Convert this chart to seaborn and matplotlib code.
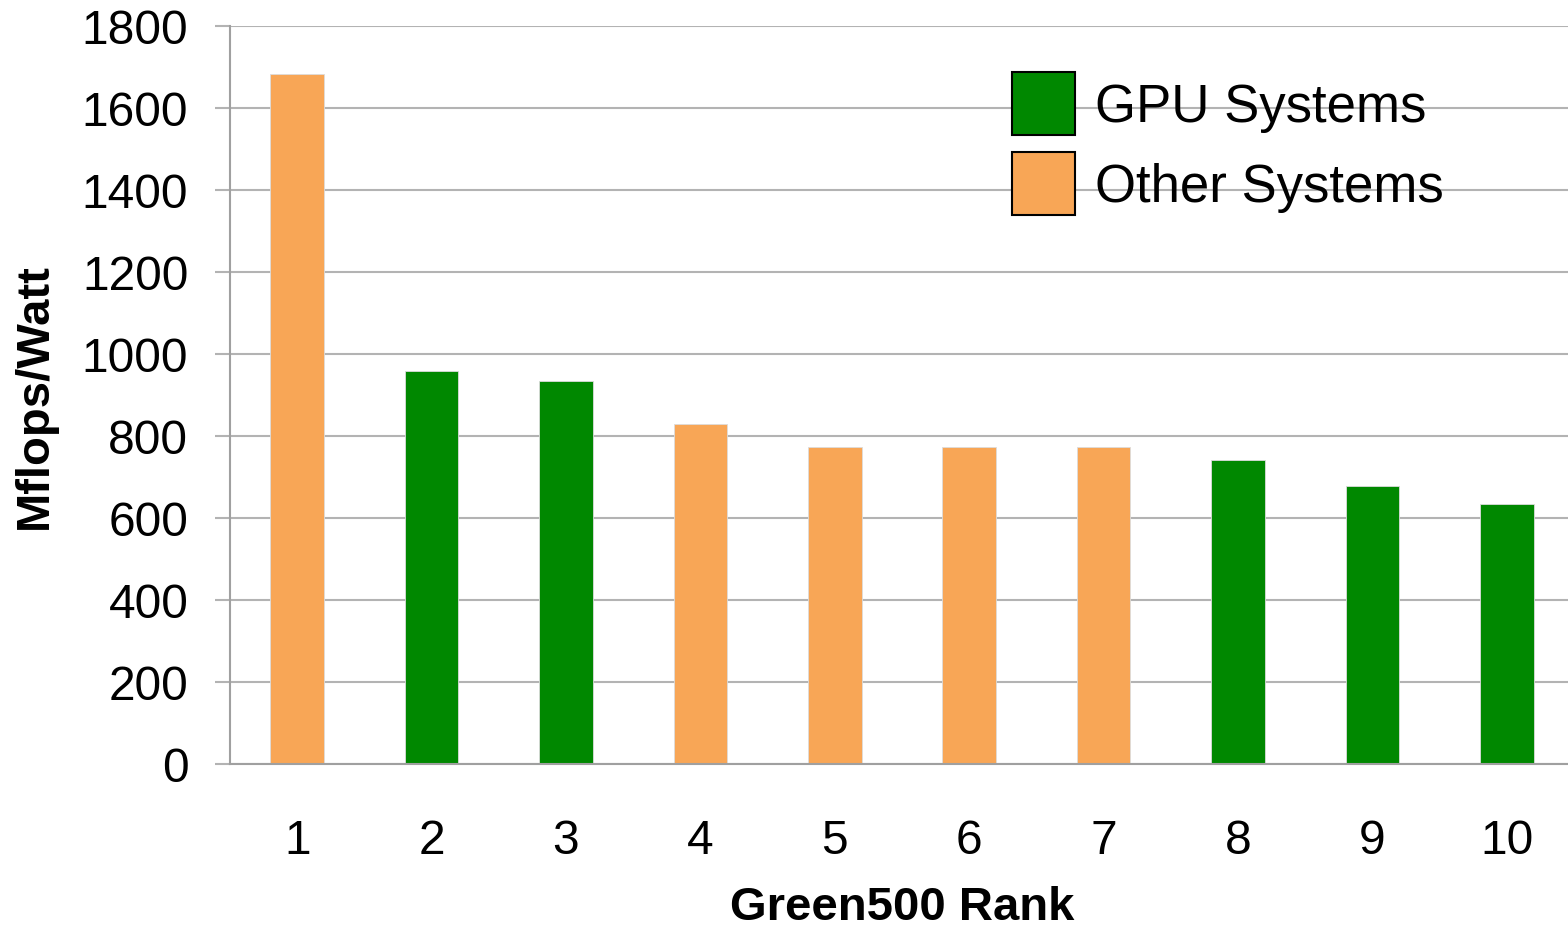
import matplotlib
matplotlib.use("Agg")
import matplotlib.pyplot as plt
import seaborn as sns
import numpy as np
from matplotlib.patches import Patch

# datos
rangos = ['1', '2', '3', '4', '5', '6', '7', '8', '9', '10']
mflops_watt = [1684, 958, 933, 829, 773, 773, 773, 741, 677, 635]
tipo = ['Other Systems', 'GPU Systems', 'GPU Systems', 'Other Systems', 'Other Systems',
        'Other Systems', 'Other Systems', 'GPU Systems', 'GPU Systems', 'GPU Systems']
orden = ['GPU Systems', 'Other Systems']
colores = {'GPU Systems': '#008800', 'Other Systems': '#F8A656'}
yticks = [0, 200, 400, 600, 800, 1000, 1200, 1400, 1600, 1800]

sns.set_style("white")
plt.rcParams['font.family'] = ['Liberation Sans', 'DejaVu Sans']
plt.rcParams['text.color'] = 'black'
plt.rcParams['axes.labelcolor'] = 'black'
plt.rcParams['xtick.labelcolor'] = 'black'
plt.rcParams['ytick.labelcolor'] = 'black'

W, H = 1568, 929
fig = plt.figure(figsize=(W / 100, H / 100), dpi=100)
ax = fig.add_axes([230 / W, (H - 765) / H, 1344 / W, 738 / H])

sns.barplot(x=rangos, y=mflops_watt, hue=tipo, hue_order=orden, palette=colores,
            dodge=False, width=0.4, order=rangos, ax=ax, legend=False, saturation=1,
            edgecolor='#dcdcdc', linewidth=0.6)

ax.set_xlim(-0.5, 9.5)
ax.set_ylim(0, 1800)
ax.set_yticks(yticks)
ax.set_yticklabels([str(v) for v in yticks], fontsize=34.5)
ax.yaxis.grid(True, color='#b3b3b3', linewidth=1.5)
ax.set_axisbelow(True)

# ticks del eje x en los limites de cada categoria, etiquetas en el centro
ax.set_xticks(np.arange(len(rangos)))
ax.set_xticklabels(rangos, fontsize=34.5)
ax.set_xticks(np.arange(len(rangos)) - 0.5, minor=True)
ax.tick_params(axis='x', which='major', length=0, pad=39)
ax.tick_params(axis='x', which='minor', length=11, width=1.5, color='#a0a0a0', direction='out')
ax.tick_params(axis='y', which='major', length=11, width=1.5, color='#b3b3b3', pad=19, left=True)

for lado in ['top', 'right']:
    ax.spines[lado].set_visible(False)
for lado in ['left', 'bottom']:
    ax.spines[lado].set_color('#a0a0a0')
    ax.spines[lado].set_linewidth(1.5)

ax.set_xlabel('Green500 Rank', fontsize=34, fontweight='bold', labelpad=16)
ax.set_ylabel('Mflops/Watt', fontsize=34, fontweight='bold', labelpad=18)

handles = [Patch(facecolor=colores[k], edgecolor='black', linewidth=1.5, label=k) for k in orden]
ax.legend(handles=handles, loc='upper left', bbox_to_anchor=(1012 / W, 1 - 73 / H),
          bbox_transform=fig.transFigure, frameon=False, fontsize=38, borderpad=0,
          handlelength=1.19, handleheight=1.46, handletextpad=0.38, labelspacing=0.32,
          borderaxespad=0)

fig.savefig('out.png', dpi=100)
